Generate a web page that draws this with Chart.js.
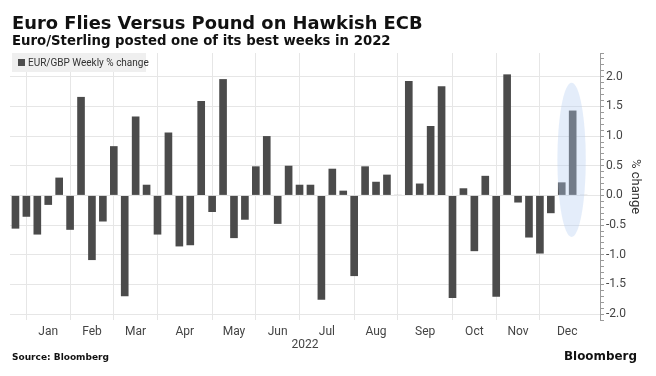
<!DOCTYPE html>
<html lang="en">
<head>
  <meta charset="UTF-8">
  <title>Euro Flies Versus Pound on Hawkish ECB</title>
  <script src="https://cdn.jsdelivr.net/npm/chart.js"></script>
  <style>
    body { margin: 0; background: #fff; font-family: Roboto, sans-serif; }
    .wrap { position: relative; width: 656px; height: 376px; overflow: hidden; }
    #chart { position: absolute; left: 0; top: 0; }
    .head { position: absolute; left: 12px; font-family: 'DejaVu Sans', sans-serif; font-weight: 700; color: #111; white-space: nowrap; line-height: 1; }
    .title { top: 14px; font-size: 17px; }
    .subtitle { top: 34px; font-size: 13.5px; }
    .legend { position: absolute; left: 12px; top: 53px; width: 134px; height: 19px; background: #efefef; font-size: 10px; color: #333; line-height: 19px; white-space: nowrap; }
    .legend i { display: inline-block; width: 7px; height: 7px; background: #4d4d4d; margin: 0 3px 0 6px; vertical-align: 0; }
    .source { top: 353px; font-size: 10px; }
    .logo { position: absolute; left: 564px; top: 351px; font-family: 'DejaVu Sans', sans-serif; font-size: 11px; font-weight: 700; color: #111; line-height: 1; }
  </style>
</head>
<body>
  <div class="wrap">
    <canvas id="chart" width="656" height="376"></canvas>
    <div class="head title" data-w="411">Euro Flies Versus Pound on Hawkish ECB</div>
    <div class="head subtitle" data-w="379">Euro/Sterling posted one of its best weeks in 2022</div>
    <div class="legend"><i></i>EUR/GBP Weekly % change</div>
    <div class="head source" data-w="97">Source: Bloomberg</div>
    <div class="logo" data-w="73">Bloomberg</div>
  </div>

  <script>
    // weekly EUR/GBP % change, one value per week (Jan .. mid Dec 2022)
    const weeklyChange = [
      -0.56, -0.36, -0.66, -0.16, 0.30, -0.58, 1.66, -1.09, -0.44, 0.83,
      -1.70, 1.33, 0.18, -0.66, 1.06, -0.86, -0.84, 1.59, -0.28, 1.96,
      -0.72, -0.41, 0.49, 1.00, -0.48, 0.50, 0.18, 0.18, -1.76, 0.45,
      0.08, -1.36, 0.49, 0.23, 0.35, 0.01, 1.93, 0.20, 1.17, 1.84,
      -1.73, 0.12, -0.94, 0.33, -1.71, 2.04, -0.12, -0.71, -0.98, -0.30,
      0.22, 1.43, 0.01
    ];
    const monthLabels = ['Jan', 'Feb', 'Mar', 'Apr', 'May', 'Jun', 'Jul', 'Aug', 'Sep', 'Oct', 'Nov', 'Dec'];
    // week index where each month starts
    const monthStartWeek = [1, 5, 9, 13, 18, 22, 26, 31, 35, 40, 44, 48];
    const yTickLabels = [-2.0, -1.5, -1.0, -0.5, 0.0, 0.5, 1.0, 1.5, 2.0];
    // the last weeks circled in the chart
    const highlightWeeks = [50, 51, 52];

    // stretch the header texts to the width they have in the original
    document.querySelectorAll('[data-w]').forEach(el => {
      const size = parseFloat(getComputedStyle(el).fontSize);
      const w = el.getBoundingClientRect().width;
      el.style.fontSize = (size * el.dataset.w / w).toFixed(2) + 'px';
    });

    const tickFont = { family: 'Roboto', size: 12 };

    // light blue ellipse over the latest weeks
    const highlightPlugin = {
      id: 'highlight',
      afterDatasetsDraw(chart) {
        const { ctx, scales: { x, y } } = chart;
        const mid = highlightWeeks.reduce((a, b) => a + b, 0) / highlightWeeks.length;
        const cx = x.getPixelForValue(mid - 0.1);
        const cy = y.getPixelForValue(0.6);
        const rx = Math.abs(x.getPixelForValue(mid + 1.3) - x.getPixelForValue(mid));
        const ry = Math.abs(y.getPixelForValue(1.3) - y.getPixelForValue(0));
        ctx.save();
        ctx.fillStyle = 'rgba(181, 206, 241, 0.37)';
        ctx.beginPath();
        ctx.ellipse(cx, cy, rx, ry, 0, 0, Math.PI * 2);
        ctx.fill();
        ctx.restore();
      }
    };

    new Chart(document.getElementById('chart'), {
      type: 'bar',
      data: {
        datasets: [{
          label: 'EUR/GBP Weekly % change',
          data: weeklyChange.map((v, i) => ({ x: i, y: v })),
          backgroundColor: '#4b4b4b',
          barPercentage: 0.7,
          categoryPercentage: 1
        }]
      },
      options: {
        responsive: false,
        animation: false,
        devicePixelRatio: 1,
        layout: { padding: { left: 10, top: 53, right: 6, bottom: 24 } },
        plugins: {
          legend: { display: false },
          tooltip: { enabled: false }
        },
        scales: {
          x: {
            type: 'linear',
            min: -0.5,
            max: 53.5,
            offset: false,
            afterBuildTicks: s => {
              const t = [];
              monthStartWeek.forEach((w, i) => {
                const end = i + 1 < monthStartWeek.length ? monthStartWeek[i + 1] : weeklyChange.length;
                t.push({ value: w, edge: true });
                t.push({ value: (w + end) / 2, name: monthLabels[i] });
              });
              s.ticks = t.sort((a, b) => a.value - b.value);
            },
            afterFit: s => { s.height = 32; },
            ticks: {
              autoSkip: false,
              maxRotation: 0,
              padding: 5,
              color: '#444',
              font: tickFont,
              callback: (v, i, ticks) => ticks[i].name || ''
            },
            grid: {
              offset: false,
              drawTicks: false,
              color: c => (c.tick && c.tick.edge) ? '#e6e6e6' : 'rgba(0,0,0,0)'
            },
            border: { display: false },
            title: { display: true, text: '2022', color: '#444', font: tickFont, padding: { top: 0, bottom: 0 } }
          },
          y: {
            position: 'right',
            min: -2.1,
            max: 2.4,
            afterBuildTicks: s => {
              const t = [];
              for (let k = -21; k <= 24; k++) {
                const v = k / 10;
                const major = yTickLabels.some(l => Math.abs(l - v) < 1e-9);
                t.push({ value: v, major });
              }
              s.ticks = t;
            },
            afterFit: s => { s.width = 50; },
            ticks: {
              autoSkip: false,
              padding: 2,
              color: '#444',
              font: tickFont,
              callback: (v, i, ticks) => ticks[i].major ? v.toFixed(1) : ''
            },
            grid: {
              tickLength: 4,
              color: c => (c.tick && c.tick.major) ? '#e6e6e6' : 'rgba(0,0,0,0)',
              tickColor: '#9a9a9a'
            },
            border: { display: true, color: '#9a9a9a' },
            title: { display: true, text: '% change', color: '#333', font: { family: 'Roboto', size: 13 }, padding: { top: 7, bottom: 0 } }
          }
        }
      },
      plugins: [highlightPlugin]
    });
  </script>
</body>
</html>
